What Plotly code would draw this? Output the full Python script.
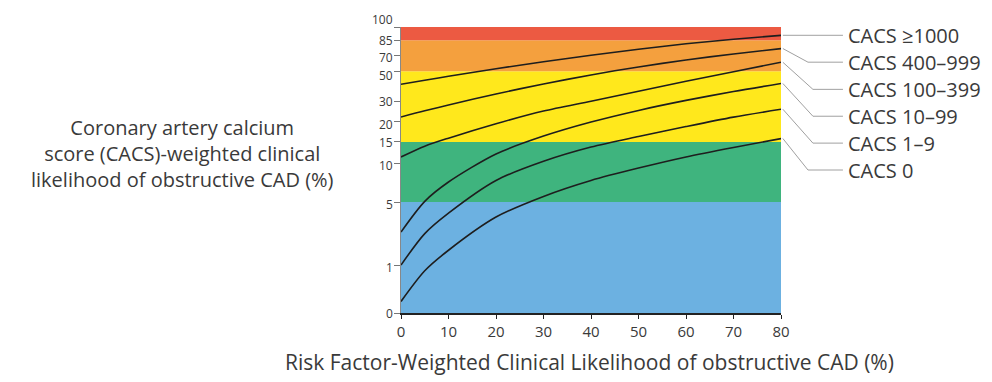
import numpy as np
import plotly.graph_objects as go

# ---------------- data ----------------
X = [0, 5, 10, 20, 30, 40, 50, 60, 70, 80]
CACS_GE_1000 = [41.5, 44.1, 46.7, 53.1, 61.9, 70.0, 76.0, 81.5, 86.1, 90.6]
CACS_400_999 = [22.2, 25.4, 28.4, 35.2, 41.7, 47.6, 55.4, 64.1, 71.3, 76.7]
CACS_100_399 = [11.5, 14.0, 15.9, 19.4, 25.3, 30.5, 37.0, 43.5, 49.7, 61.2]
CACS_10_99 = [3.1, 5.1, 7.6, 12.2, 16.4, 19.8, 25.6, 31.0, 36.8, 42.0]
CACS_1_9 = [1.0, 3.0, 4.3, 7.8, 10.5, 13.8, 16.3, 18.7, 22.1, 26.2]
CACS_0 = [0.24, 0.88, 1.94, 4.05, 5.74, 7.8, 9.4, 11.5, 13.7, 15.8]

SERIES_NAMES = ["CACS \u22651000", "CACS 400\u2013999", "CACS 100\u2013399",
                "CACS 10\u201399", "CACS 1\u20139", "CACS 0"]
SERIES = [CACS_GE_1000, CACS_400_999, CACS_100_399, CACS_10_99, CACS_1_9, CACS_0]

X_TICKS = [0, 10, 20, 30, 40, 50, 60, 70, 80]
Y_TICKS = [0, 1, 5, 10, 15, 20, 30, 50, 70, 85, 100]
Y_TICK_LABELS = [str(v) for v in Y_TICKS]

Y_TITLE = "Coronary artery calcium<br>score (CACS)-weighted clinical<br>likelihood of obstructive CAD (%)"
X_TITLE = "Risk Factor-Weighted Clinical Likelihood of obstructive CAD (%)"

# likelihood bands (lower, upper)
BAND_LIMITS = [(0, 5), (5, 15), (15, 50), (50, 85), (85, 100)]

# ---------------- styling / custom axis scale ----------------
# the vertical axis of the original is a hand-made non-linear scale:
# fraction of axis height at which each tick value sits
SCALE_FRAC = [0.0, 0.1677, 0.3877, 0.5229, 0.5983, 0.6706, 0.7380, 0.8453, 0.9012, 0.9535, 1.0]
# small vertical nudges (px) of the crowded y tick labels, as in the original
Y_LABEL_SHIFT = [0, -2, -2, -2, -1, -3, 0, -4, -2, 0, 8]


def ypos(v):
    return np.interp(v, Y_TICKS, SCALE_FRAC)


BAND_COLORS = ["#6cb1e1", "#3fb47e", "#ffe81c", "#f4a03e", "#ec5a42"]
TEXT = "#3a3a3a"
FONT = "Open Sans"

fig = go.Figure()

for (lo, hi), col in zip(BAND_LIMITS, BAND_COLORS):
    fig.add_shape(type="rect", xref="x", yref="y", x0=0, x1=80,
                  y0=float(ypos(lo)), y1=float(ypos(hi)),
                  fillcolor=col, line_width=0, layer="below")

for name, vals in zip(SERIES_NAMES, SERIES):
    fig.add_trace(go.Scatter(x=X, y=ypos(vals), mode="lines", name=name,
                             line=dict(color="#1e1e1e", width=1.6, shape="spline",
                                       smoothing=0.8),
                             hoverinfo="skip", showlegend=False))

# y tick labels (placed as text next to the axis ticks)
for v, lab, sh in zip(Y_TICKS, Y_TICK_LABELS, Y_LABEL_SHIFT):
    fig.add_annotation(xref="paper", yref="y", x=-0.016, y=float(ypos(v)),
                       yshift=sh, text=lab, xanchor="right", yanchor="middle",
                       showarrow=False, font=dict(family=FONT, size=12, color=TEXT))

# right-hand labels with leader lines (paper coordinates)
LABEL_Y = [0.971, 0.877, 0.782, 0.688, 0.594, 0.500]
ELBOW_X = [1.005, 1.071, 1.084, 1.084, 1.084, 1.071]
for name, vals, ly, ex in zip(SERIES_NAMES, SERIES, LABEL_Y, ELBOW_X):
    y0 = float(ypos(vals[-1]))
    fig.add_shape(type="path", xref="paper", yref="paper",
                  path=f"M 1.005 {y0} L {ex} {ly} L 1.163 {ly}",
                  line=dict(color="#a0a0a0", width=1))
    fig.add_annotation(xref="paper", yref="paper", x=1.172, y=ly, text=name,
                       xanchor="left", yanchor="middle", showarrow=False,
                       font=dict(family=FONT, size=20, color=TEXT))

fig.add_annotation(xref="paper", yref="paper", x=-0.574, y=0.559, text=Y_TITLE,
                   xanchor="center", yanchor="middle", showarrow=False, align="center",
                   font=dict(family=FONT, size=20, color=TEXT))
fig.add_annotation(xref="paper", yref="paper", x=0.495, y=-0.171, text=X_TITLE,
                   xanchor="center", yanchor="middle", showarrow=False,
                   font=dict(family=FONT, size=21, color=TEXT))

# page body has an 8px default margin, so margins are reduced by 8 to keep
# the plot area at the reference's position
fig.update_layout(
    width=992, height=382,
    margin=dict(l=393, r=219, t=19, b=77),
    paper_bgcolor="white", plot_bgcolor="white",
    xaxis=dict(range=[0, 80], tickvals=X_TICKS, ticks="outside", ticklen=4,
               tickcolor="#222", showline=True, linecolor="#222", linewidth=1.5,
               showgrid=False, zeroline=False,
               tickfont=dict(family=FONT, size=15, color=TEXT)),
    yaxis=dict(range=[0, 1], tickvals=[float(v) for v in ypos(Y_TICKS)],
               showticklabels=False, ticks="outside", ticklen=6,
               tickcolor="#777", showline=True, linecolor="#888", linewidth=1,
               showgrid=False, zeroline=False),
)

fig.write_html("out.html")
